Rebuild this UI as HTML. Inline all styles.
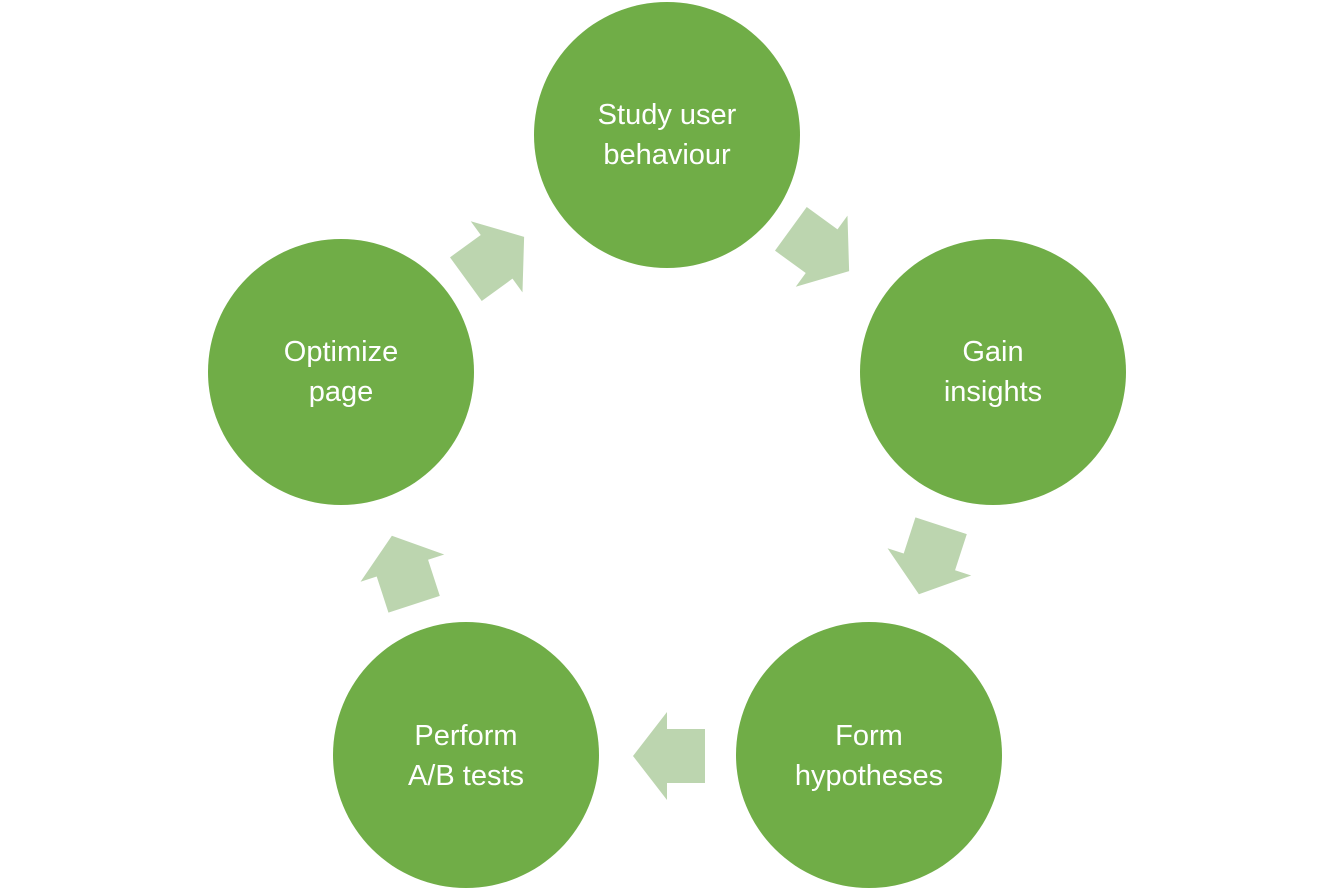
<!DOCTYPE html>
<html><head><meta charset="utf-8"><style>
html,body{margin:0;padding:0;background:#fff;}
svg{display:block;}
text{font-family:"Liberation Sans",sans-serif;font-size:29px;fill:#fff;text-anchor:middle;}
</style></head><body>
<svg width="1334" height="892" viewBox="0 0 1334 892" xmlns="http://www.w3.org/2000/svg">
<defs>
<polygon id="ar" points="-36,-27 2,-27 2,-44 36,0 2,44 2,27 -36,27" fill="#bcd5af"/>
</defs>
<g fill="#70ad47">
<circle cx="667" cy="135" r="133"/>
<circle cx="993" cy="372" r="133"/>
<circle cx="869" cy="755" r="133"/>
<circle cx="466" cy="755" r="133"/>
<circle cx="341" cy="372" r="133"/>
</g>
<use href="#ar" transform="translate(820,250) rotate(36)"/>
<use href="#ar" transform="translate(930,560) rotate(108)"/>
<use href="#ar" transform="translate(669,756) rotate(180)"/>
<use href="#ar" transform="translate(403,570) rotate(252)"/>
<use href="#ar" transform="translate(495,258) rotate(-36)"/>
<text x="667" y="124">Study user</text>
<text x="667" y="164">behaviour</text>
<text x="993" y="361">Gain</text>
<text x="993" y="401">insights</text>
<text x="869" y="745">Form</text>
<text x="869" y="785">hypotheses</text>
<text x="466" y="745">Perform</text>
<text x="466" y="785">A/B tests</text>
<text x="341" y="361">Optimize</text>
<text x="341" y="401">page</text>
</svg>
</body></html>
